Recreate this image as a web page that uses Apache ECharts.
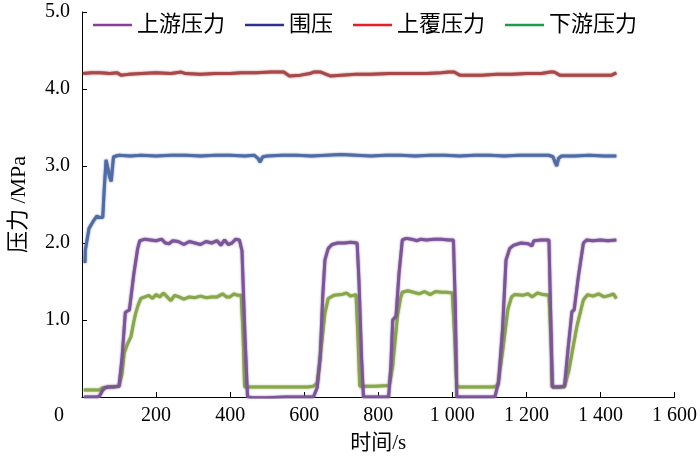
<!DOCTYPE html>
<html>
<head>
<meta charset="utf-8">
<title>压力-时间曲线</title>
<script src="https://cdn.jsdelivr.net/npm/echarts@6/dist/echarts.min.js"></script>
<style>
  html, body { margin: 0; padding: 0; background: #fff; }
  #chart { width: 700px; height: 459px; }
</style>
</head>
<body>
<div id="chart"></div>
<script>
// 图例名称
const seriesNames = ["上游压力", "围压", "上覆压力", "下游压力"];
const xTicks = [0, 200, 400, 600, 800, 1000, 1200, 1400, 1600];
const yTicks = [0, 1.0, 2.0, 3.0, 4.0, 5.0];

// [时间/s, 压力/MPa]
const upstream = [
  [5, 0.0], [20, 0.0], [40, 0.0], [47, 0.01], [55, 0.08], [62, 0.12], [70, 0.13], [85, 0.13], [100, 0.14],
  [108, 0.5], [117, 1.10], [128, 1.13], [140, 1.6], [150, 1.92], [156, 2.03], [170, 2.05], [185, 2.04],
  [200, 2.03], [215, 2.05], [225, 2.0], [235, 1.99], [245, 2.03], [260, 2.02], [275, 1.98], [290, 2.02],
  [305, 2.0], [320, 1.98], [335, 2.02], [350, 2.0], [365, 2.03], [375, 1.97], [385, 2.04], [395, 1.98],
  [405, 2.0], [415, 2.05], [425, 2.04], [432, 1.9], [440, 0.8], [447, 0.0], [460, -0.01], [500, -0.01],
  [550, 0.0], [600, 0.0], [625, 0.0], [635, 0.12], [643, 0.5], [650, 1.3], [656, 1.78], [665, 1.93],
  [675, 1.98], [690, 2.0], [710, 2.0], [725, 2.01], [743, 2.0], [748, 1.5], [755, 0.5], [760, 0.0],
  [790, 0.0], [828, 0.0], [834, 0.4], [839, 1.0], [848, 1.05], [856, 1.6], [865, 2.04], [875, 2.06],
  [890, 2.05], [905, 2.03], [915, 2.05], [930, 2.04], [950, 2.05], [970, 2.05], [990, 2.04], [1003, 2.04],
  [1008, 1.2], [1012, 0.0], [1060, 0.0], [1115, 0.0], [1125, 0.2], [1136, 0.91], [1145, 1.78], [1155, 1.93],
  [1165, 1.97], [1185, 2.0], [1205, 1.99], [1215, 1.96], [1220, 2.03], [1240, 2.04], [1261, 2.04],
  [1265, 1.2], [1270, 0.13], [1290, 0.13], [1303, 0.14], [1312, 0.6], [1323, 1.11], [1329, 1.13],
  [1340, 1.55], [1354, 2.0], [1363, 2.04], [1380, 2.03], [1400, 2.04], [1420, 2.03], [1443, 2.04]
];

const confining = [
  [8, 1.74], [9, 1.91], [19, 2.19], [30, 2.28], [40, 2.35], [47, 2.33], [56, 2.33], [60, 2.7], [65, 3.08],
  [70, 3.1], [75, 2.85], [79, 2.80], [85, 3.12], [100, 3.14], [130, 3.13], [160, 3.14], [200, 3.13],
  [240, 3.14], [280, 3.14], [320, 3.13], [360, 3.14], [400, 3.14], [440, 3.13], [465, 3.14], [475, 3.1],
  [481, 3.05], [488, 3.12], [500, 3.13], [540, 3.14], [580, 3.14], [620, 3.13], [660, 3.14], [700, 3.15],
  [740, 3.14], [780, 3.13], [820, 3.14], [860, 3.14], [900, 3.13], [940, 3.14], [980, 3.14], [1020, 3.13],
  [1060, 3.14], [1100, 3.14], [1140, 3.13], [1180, 3.14], [1220, 3.14], [1260, 3.14], [1272, 3.12],
  [1278, 3.04], [1282, 3.0], [1287, 3.1], [1295, 3.13], [1330, 3.13], [1370, 3.14], [1410, 3.13], [1443, 3.13]
];

const overburden = [
  [3, 4.2], [25, 4.21], [50, 4.21], [75, 4.2], [95, 4.21], [105, 4.18], [125, 4.19], [160, 4.2], [200, 4.21],
  [240, 4.2], [268, 4.22], [280, 4.2], [320, 4.19], [360, 4.2], [400, 4.2], [430, 4.21], [470, 4.21],
  [510, 4.22], [545, 4.22], [560, 4.17], [590, 4.18], [615, 4.2], [625, 4.22], [645, 4.22], [670, 4.17],
  [700, 4.18], [740, 4.19], [780, 4.19], [830, 4.2], [880, 4.2], [930, 4.2], [970, 4.21], [990, 4.22],
  [1005, 4.22], [1020, 4.18], [1040, 4.18], [1080, 4.18], [1120, 4.19], [1160, 4.19], [1200, 4.2],
  [1240, 4.2], [1265, 4.22], [1275, 4.22], [1290, 4.18], [1320, 4.18], [1360, 4.18], [1400, 4.18],
  [1430, 4.18], [1443, 4.21]
];

const downstream = [
  [5, 0.09], [30, 0.09], [47, 0.09], [55, 0.12], [70, 0.13], [100, 0.14], [108, 0.3], [114, 0.57], [122, 0.68],
  [132, 0.78], [140, 0.98], [145, 1.09], [152, 1.2], [159, 1.28], [170, 1.3], [180, 1.32], [190, 1.28],
  [200, 1.33], [210, 1.3], [220, 1.35], [230, 1.3], [240, 1.25], [250, 1.32], [262, 1.3], [275, 1.27],
  [290, 1.3], [305, 1.29], [320, 1.31], [335, 1.29], [350, 1.3], [365, 1.3], [380, 1.34], [390, 1.3],
  [400, 1.3], [410, 1.34], [420, 1.32], [430, 1.32], [435, 0.8], [439, 0.13], [500, 0.13], [560, 0.13],
  [610, 0.13], [625, 0.14], [635, 0.18], [645, 0.6], [656, 1.09], [665, 1.28], [680, 1.32], [700, 1.33],
  [715, 1.35], [725, 1.31], [740, 1.33], [745, 0.8], [750, 0.14], [790, 0.14], [830, 0.15], [839, 0.4],
  [852, 1.06], [860, 1.28], [865, 1.36], [880, 1.38], [895, 1.36], [910, 1.34], [925, 1.37], [940, 1.33],
  [955, 1.37], [970, 1.36], [985, 1.36], [1000, 1.35], [1006, 0.8], [1012, 0.13], [1060, 0.13],
  [1110, 0.13], [1123, 0.15], [1136, 0.6], [1150, 1.14], [1160, 1.3], [1168, 1.33], [1190, 1.32],
  [1205, 1.34], [1215, 1.3], [1230, 1.35], [1245, 1.33], [1261, 1.32], [1266, 0.8], [1270, 0.13],
  [1303, 0.13], [1315, 0.35], [1336, 0.91], [1354, 1.26], [1365, 1.33], [1380, 1.31], [1395, 1.34],
  [1410, 1.3], [1425, 1.32], [1435, 1.34], [1443, 1.28]
];

const lineColors = ["#7c5598", "#506ca5", "#a84848", "#88a64a"];
const legendColors = ["#8b3d9e", "#2e3192", "#e41f26", "#1e9b48"];
const FONT = "'Liberation Serif', 'Noto Sans CJK SC', serif";

const chart = echarts.init(document.getElementById("chart"));

function makeLine(name, data, color, z) {
  return {
    name: name,
    type: "line",
    data: data,
    symbol: "none",
    silent: true,
    z: z,
    lineStyle: {
      color: color,
      width: 3,
      shadowColor: color,
      shadowBlur: 2
    },
    itemStyle: { color: color }
  };
}

const option = {
  animation: false,
  backgroundColor: "#fff",
  textStyle: { fontFamily: FONT, color: "#000" },
  grid: { left: 75.5, right: 24, top: 12, bottom: 62, containLabel: false },
  legend: {
    left: 88,
    top: 9,
    itemWidth: 39,
    itemHeight: 2.5,
    itemGap: 20,
    textStyle: { fontFamily: FONT, fontSize: 22, color: "#000" },
    data: seriesNames.map((n, i) => ({
      name: n,
      icon: "rect",
      itemStyle: { color: legendColors[i] }
    }))
  },
  xAxis: {
    type: "value",
    min: xTicks[0],
    max: xTicks[xTicks.length - 1],
    interval: 200,
    name: "时间/s",
    nameLocation: "middle",
    nameGap: 36,
    nameTextStyle: { fontFamily: FONT, fontSize: 21, color: "#000" },
    splitLine: { show: false },
    axisLine: { lineStyle: { color: "#000", width: 1 } },
    axisTick: { inside: true, length: 5, lineStyle: { color: "#000" } },
    axisLabel: {
      fontFamily: FONT,
      fontSize: 20,
      color: "#000",
      margin: 9,
      formatter: function (v) {
        if (v === 0) return "{z|0}";
        return v >= 1000 ? Math.floor(v / 1000) + " " + String(v % 1000).padStart(3, "0") : String(v);
      },
      rich: { z: { fontFamily: FONT, fontSize: 20, color: "#000", padding: [0, 46, 0, 0] } }
    }
  },
  yAxis: {
    type: "value",
    min: yTicks[0],
    max: yTicks[yTicks.length - 1],
    interval: 1,
    name: "压力 /MPa",
    nameLocation: "middle",
    nameGap: 52,
    nameTextStyle: { fontFamily: FONT, fontSize: 22, color: "#000" },
    splitLine: { show: false },
    axisLine: { show: true, lineStyle: { color: "#000", width: 1 } },
    axisTick: { show: true, inside: true, length: 5, lineStyle: { color: "#000" } },
    axisLabel: {
      fontFamily: FONT,
      fontSize: 20,
      color: "#000",
      margin: 12,
      formatter: function (v) { return v === 0 ? "" : v.toFixed(1); }
    }
  },
  series: [
    makeLine(seriesNames[2], overburden, lineColors[2], 2),
    makeLine(seriesNames[1], confining, lineColors[1], 2),
    makeLine(seriesNames[3], downstream, lineColors[3], 3),
    makeLine(seriesNames[0], upstream, lineColors[0], 4)
  ]
};

chart.setOption(option);
</script>
</body>
</html>
